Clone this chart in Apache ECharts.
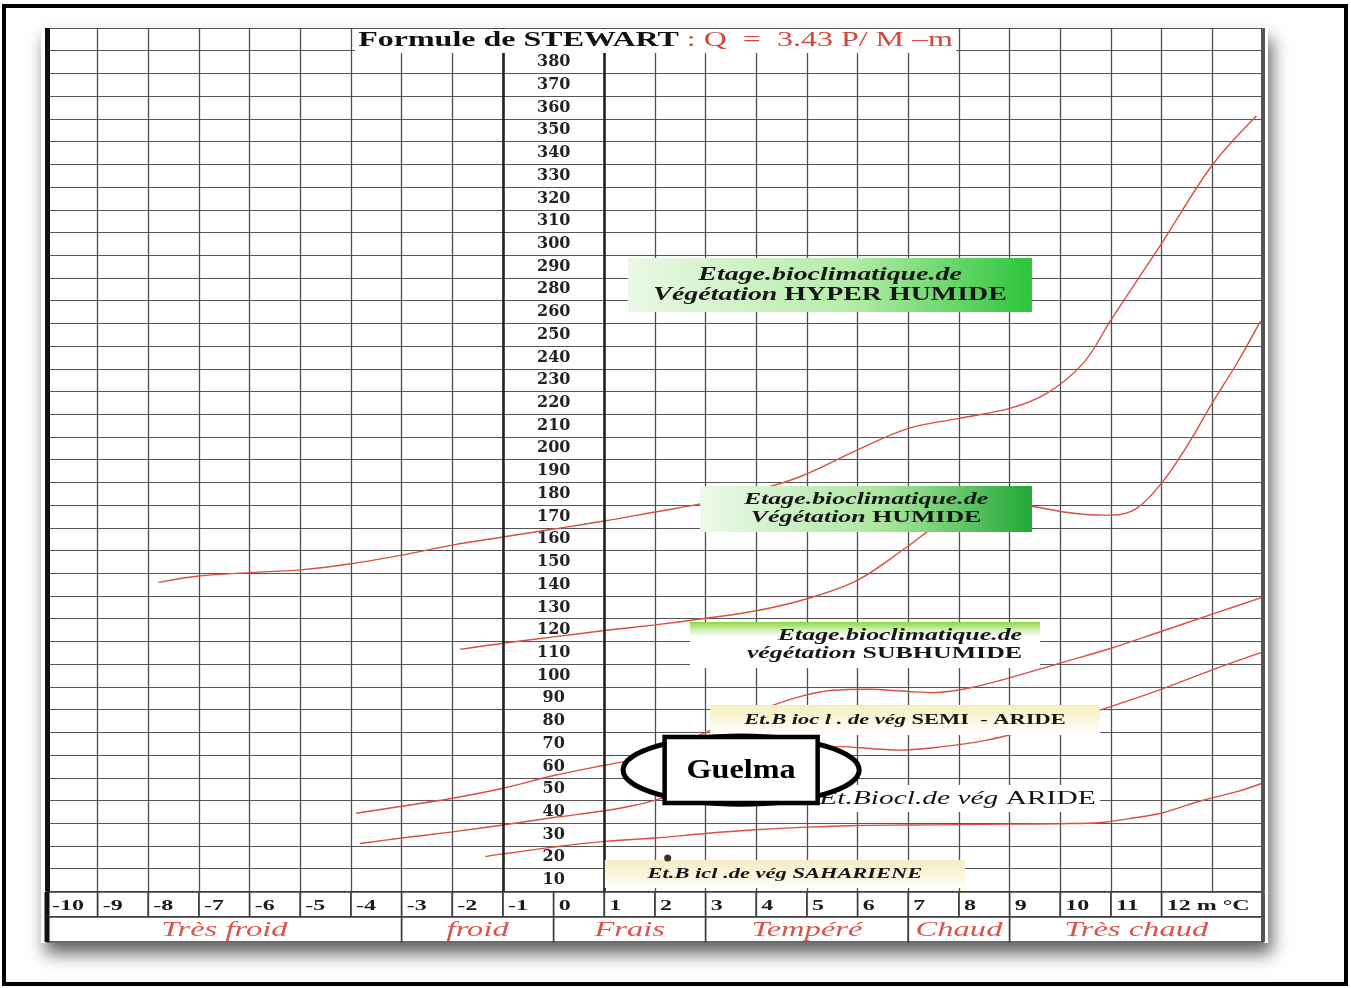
<!DOCTYPE html>
<html>
<head>
<meta charset="utf-8">
<script src="https://cdn.jsdelivr.net/npm/echarts@6/dist/echarts.min.js"></script>
<style>
  html, body { margin: 0; padding: 0; background: #fff; }
  #chart { width: 1351px; height: 988px; }
</style>
</head>
<body>
<div id="chart"></div>
<script>
// Climagramme de Stewart : Q (rows) against m (°C)
const xTicks = [-10, -9, -8, -7, -6, -5, -4, -3, -2, -1, 0, 1, 2, 3, 4, 5, 6, 7, 8, 9, 10, 11, 12];
const xTickLabels = ['-10', '-9', '-8', '-7', '-6', '-5', '-4', '-3', '-2', '-1', '0', '1', '2', '3', '4', '5', '6', '7', '8', '9', '10', '11', '12 m °C'];
// printed as on the original sheet (270 is skipped)
const yTickLabels = ['10', '20', '30', '40', '50', '60', '70', '80', '90', '100', '110', '120', '130', '140', '150', '160',
  '170', '180', '190', '200', '210', '220', '230', '240', '250', '260', '280', '290', '300', '310', '320', '330', '340',
  '350', '360', '370', '380'];
const zoneNames = ['Très froid', 'froid', 'Frais', 'Tempéré', 'Chaud', 'Très chaud'];
const zoneEdges = [-10, -3, 0, 3, 7, 9, 14];

// stage limits [m, Q]
const limitHyperHumide = [[-7.8, 141], [-7, 143.8], [-6, 145.3], [-5, 146.5], [-4, 149.2], [-3, 153], [-2, 157.4], [-1, 161],
  [0, 164.5], [1, 168], [2, 172], [3, 176], [4, 181.5], [4.86, 187.5], [6, 199.3], [7, 208.8], [8, 213.2], [9, 217.6],
  [9.73, 224.2], [10.45, 237.4], [11, 256.5], [12, 290.2], [13, 324.7], [13.87, 346.3]];
const limitHumide = [[-1.85, 111.5], [-1, 114.2], [0, 117], [1, 119.8], [2, 122.3], [3, 125.2], [4, 128.5], [5, 133.8],
  [6, 142], [7, 157], [7.5, 165], [8.3, 172], [9, 175], [9.5, 174.3], [10, 172.2], [10.5, 170.9], [11, 170.6],
  [11.5, 173.5], [12, 184.7], [12.5, 201], [13, 220], [13.5, 238], [13.95, 256]];
const limitSubhumide = [[-3.9, 39.4], [-3, 42.5], [-2, 46], [-1, 50.4], [0, 56], [1, 60.5], [1.5, 62.5], [1.9, 64],
  [3, 75], [4.07, 84.8], [4.86, 90.7], [5.5, 93.5], [6.2, 94], [7, 93], [7.5, 92.5], [8.2, 94.5], [9, 99], [10, 105.5],
  [11, 112], [12, 119.5], [13, 127], [14, 134.5]];
const limitSemiAride = [[-3.82, 26.1], [-3, 28.5], [-2, 31.2], [-1, 34.2], [0, 37.5], [1, 40.5], [1.5, 42.5], [1.9, 44.5],
  [3, 52], [4, 60], [5, 66], [5.65, 68.7], [6.3, 67.8], [6.83, 67.2], [7.6, 68.5], [8.55, 71.6], [9.7, 78], [10.78, 84.8],
  [12, 94], [13, 102.5], [14, 110.4]];
const limitAride = [[-1.35, 20.3], [-1, 21.5], [0, 24.5], [1, 27], [2, 28.5], [3, 30.5], [3.9, 32], [5, 33.3], [6, 34],
  [7, 34.2], [8, 34.4], [9, 34.6], [10, 34.8], [10.8, 35.3], [11.5, 37.5], [12, 39.5], [12.8, 45], [13.5, 49], [14, 52.7]];
const stationDot = [[2.25, 19.7]];

const SERIF = '"Liberation Serif", "Times New Roman", serif';
const RED = '#d8503f';
const STRETCH = 1.55;

const xGridColors = [];
for (let v = -10; v <= 14; v++) xGridColors.push(v === 0 ? 'rgba(0,0,0,0)' : '#505050');

function hGrad(a, b, c) {
  return new echarts.graphic.LinearGradient(0, 0, 1, 0, [
    { offset: 0, color: a }, { offset: 0.55, color: b }, { offset: 1, color: c }]);
}
function vGrad(stops) {
  return new echarts.graphic.LinearGradient(0, 0, 0, 1, stops.map(c => ({ offset: c[0], color: c[1] })));
}
function rich(size, lh) {
  const base = { fontFamily: SERIF, fontSize: size, lineHeight: lh, fill: '#161616' };
  return {
    i: Object.assign({ fontStyle: 'italic', fontWeight: 'bold' }, base),
    b: Object.assign({ fontWeight: 'bold' }, base),
    n: Object.assign({ fontStyle: 'italic' }, base),
    r: Object.assign({}, base)
  };
}

// stage labels, placed in chart units
const boxes = [
  { x1: 1.47, y1: 283.8, x2: 9.44, y2: 260, align: 'center', size: 18, lh: 20,
    fill: hGrad('#eaf8e5', '#b6eca9', '#2cc53b'),
    text: '{i|Etage.bioclimatique.de}\n{i|Végétation}{b| HYPER HUMIDE}' },
  { x1: 2.89, y1: 183.4, x2: 9.44, y2: 163.2, align: 'center', size: 16.7, lh: 18,
    fill: hGrad('#edf9ea', '#abe69e', '#22a837'),
    text: '{i|Etage.bioclimatique.de}\n{i|Végétation}{b| HUMIDE}' },
  { x1: 2.69, y1: 123.6, x2: 9.6, y2: 103.3, align: 'right', size: 16.7, lh: 18,
    fill: vGrad([[0, '#86d63f'], [0.16, '#cfeeb2'], [0.34, '#ffffff'], [1, '#ffffff']]),
    text: '{i|Etage.bioclimatique.de}\n{i|végétation}{b| SUBHUMIDE}' },
  { x1: 3.09, y1: 87, x2: 10.78, y2: 73.8, align: 'center', size: 14.5, lh: 16,
    fill: vGrad([[0, '#f6eebb'], [0.5, '#fbf7df'], [1, '#ffffff']]),
    text: '{i|Et.B ioc l . de vég}{b| SEMI  - ARIDE}' },
  { x1: 5.16, y1: 51.8, x2: 10.78, y2: 39.9, align: 'center', size: 19, lh: 20,
    fill: '#ffffff',
    text: '{n|Et.Biocl.de vég}{r| ARIDE}' },
  { x1: 1.01, y1: 18.8, x2: 8.12, y2: 6.5, align: 'center', size: 14.5, lh: 16,
    fill: vGrad([[0, '#f5edc2'], [1, '#fffdf5']]),
    text: '{i|Et.B icl .de vég SAHARIENE}' }
];

const guelma = { cx: 3.70, cy: 58.4, rx: 2.33, ry: 15, hw: 1.51, hh: 14.5, text: 'Guelma' };

const cells = [];
xTicks.forEach((v, i) => cells.push({ x1: v, x2: i + 1 < xTicks.length ? xTicks[i + 1] : zoneEdges[zoneEdges.length - 1], row: 1, text: xTickLabels[i] }));
zoneNames.forEach((n, i) => cells.push({ x1: zoneEdges[i], x2: zoneEdges[i + 1], row: 0, text: n }));

function renderBox(params, api) {
  const b = boxes[params.dataIndex];
  const p1 = api.coord([api.value(0), api.value(1)]);
  const p2 = api.coord([api.value(2), api.value(3)]);
  const x = Math.min(p1[0], p2[0]), y = Math.min(p1[1], p2[1]);
  const w = Math.abs(p2[0] - p1[0]), h = Math.abs(p2[1] - p1[1]);
  const tx = b.align === 'right' ? x + w - 18 : x + w / 2;
  return {
    type: 'group',
    children: [
      { type: 'rect', shape: { x: x, y: y, width: w, height: h }, style: { fill: b.fill } },
      { type: 'text', x: tx, y: y + h / 2, scaleX: STRETCH,
        style: { text: b.text, rich: rich(b.size, b.lh), align: b.align, verticalAlign: 'middle' } }
    ]
  };
}

function renderGuelma(params, api) {
  const c = api.coord([api.value(0), api.value(1)]);
  const e = api.coord([guelma.cx + guelma.rx, guelma.cy + guelma.ry]);
  const r = api.coord([guelma.cx + guelma.hw, guelma.cy + guelma.hh]);
  const rx = e[0] - c[0], ry = c[1] - e[1];
  const hw = r[0] - c[0], hh = c[1] - r[1];
  return {
    type: 'group',
    children: [
      { type: 'ellipse', shape: { cx: c[0], cy: c[1], rx: rx, ry: ry }, style: { fill: '#fff', stroke: '#000', lineWidth: 5 } },
      { type: 'rect', shape: { x: c[0] - hw, y: c[1] - hh, width: hw * 2, height: hh * 2 }, style: { fill: '#fff', stroke: '#000', lineWidth: 4.5 } },
      { type: 'text', x: c[0], y: c[1] + 1, scaleX: 1.15,
        style: { text: guelma.text, align: 'center', verticalAlign: 'middle', fontFamily: SERIF, fontWeight: 'bold', fontSize: 28, fill: '#000' } }
    ]
  };
}

function renderCell(params, api) {
  const c = cells[params.dataIndex];
  const a = api.coord([api.value(0), api.value(2) + 1]);
  const b = api.coord([api.value(1), api.value(2)]);
  const tick = c.row === 1;
  const children = [
    { type: 'rect', shape: { x: a[0], y: a[1], width: b[0] - a[0], height: b[1] - a[1] }, style: { fill: '#fff', stroke: '#3a3a3a', lineWidth: 1.6 } },
    { type: 'text', x: tick ? a[0] + 5 : (a[0] + b[0]) / 2, y: (a[1] + b[1]) / 2 + 1, scaleX: STRETCH,
      style: tick
        ? { text: c.text, align: 'left', verticalAlign: 'middle', fontFamily: SERIF, fontWeight: 'bold', fontSize: 15.5, fill: '#1a1a1a' }
        : { text: c.text, align: 'center', verticalAlign: 'middle', fontFamily: SERIF, fontStyle: 'italic', fontSize: 21, fill: '#d9544a' } }
  ];
  if (c.x1 === zoneEdges[0]) {
    children.push({ type: 'line', shape: { x1: a[0], y1: a[1], x2: a[0], y2: b[1] }, style: { stroke: '#111', lineWidth: 5 } });
  }
  if (c.x2 === zoneEdges[zoneEdges.length - 1]) {
    children.push({ type: 'line', shape: { x1: b[0], y1: a[1], x2: b[0], y2: b[1] }, style: { stroke: '#555', lineWidth: 4 } });
  }
  return { type: 'group', children: children };
}

function limitSeries(name, data, extra) {
  return Object.assign({
    name: name, type: 'line', xAxisIndex: 0, yAxisIndex: 0, data: data, smooth: 0.35,
    showSymbol: false, silent: true, z: 3,
    lineStyle: { color: RED, width: 1.4 }
  }, extra || {});
}

const chart = echarts.init(document.getElementById('chart'));
chart.setOption({
  animation: false,
  backgroundColor: '#fff',
  grid: [
    { left: 47, right: 88, top: 28, bottom: 96.6, outerBoundsMode: 'none' },
    { left: 47, right: 88, top: 892, height: 50, outerBoundsMode: 'none' }
  ],
  xAxis: [
    { gridIndex: 0, type: 'value', min: -10, max: 14, interval: 1,
      axisLine: { show: false }, axisTick: { show: false }, axisLabel: { show: false },
      splitLine: { show: true, lineStyle: { color: xGridColors, width: 1.3 } } },
    { gridIndex: 1, type: 'value', min: -10, max: 14, show: false }
  ],
  yAxis: [
    { gridIndex: 0, type: 'value', min: 5, max: 385, interval: 10,
      axisLine: { show: false }, axisTick: { show: false }, axisLabel: { show: false },
      splitLine: { show: true, lineStyle: { color: '#555', width: 1.2 } } },
    { gridIndex: 0, type: 'value', min: 5, max: 385, interval: 5, position: 'left', offset: -506.7,
      axisLine: { show: false }, axisTick: { show: false }, splitLine: { show: false },
      axisLabel: {
        align: 'center', margin: 0, fontFamily: 'DejaVu Serif', fontWeight: 'bold', fontSize: 16, color: '#222',
        formatter: function (v) {
          const r = Math.round(v);
          return r % 10 === 0 ? (yTickLabels[r / 10 - 1] || '') : '';
        }
      } },
    { gridIndex: 1, type: 'value', min: 0, max: 2, show: false }
  ],
  graphic: [
    { type: 'rect', z: -20, silent: true, shape: { x: 4, y: 6, width: 1342, height: 978 },
      style: { fill: '#fff', stroke: '#000', lineWidth: 4 } },
    { type: 'rect', z: -10, silent: true, shape: { x: 41, y: 27, width: 1227, height: 916 },
      style: { fill: '#fff', shadowBlur: 16, shadowColor: 'rgba(0,0,0,0.6)', shadowOffsetX: 4, shadowOffsetY: 11 } },
    { type: 'text', z: 50, silent: true, x: 355, y: 41, scaleX: 1.6,
      style: {
        text: '{a|Formule de STEWART}{b| : Q  =  3.43 P/ M –m}',
        verticalAlign: 'middle', backgroundColor: '#fff', padding: [2, 2],
        rich: {
          a: { fontFamily: SERIF, fontWeight: 'bold', fontSize: 20, fill: '#111' },
          b: { fontFamily: SERIF, fontSize: 20, fill: '#d0473b' }
        }
      } }
  ],
  series: [
    limitSeries('HYPER HUMIDE / HUMIDE', limitHyperHumide, {
      markLine: {
        silent: true, symbol: ['none', 'none'], label: { show: false }, animation: false,
        data: [
          { xAxis: -10, lineStyle: { color: '#111', width: 5, type: 'solid' } },
          { xAxis: -1, lineStyle: { color: '#222', width: 2.6, type: 'solid' } },
          { xAxis: 1, lineStyle: { color: '#222', width: 2.6, type: 'solid' } },
          { xAxis: 14, lineStyle: { color: '#555', width: 4, type: 'solid' } }
        ]
      }
    }),
    limitSeries('HUMIDE / SUBHUMIDE', limitHumide),
    limitSeries('SUBHUMIDE / SEMI-ARIDE', limitSubhumide),
    limitSeries('SEMI-ARIDE / ARIDE', limitSemiAride),
    limitSeries('ARIDE / SAHARIEN', limitAride),
    { name: 'étages', type: 'custom', xAxisIndex: 0, yAxisIndex: 0, z: 5, silent: true,
      renderItem: renderBox, data: boxes.map(b => [b.x1, b.y1, b.x2, b.y2]) },
    { name: 'point', type: 'scatter', xAxisIndex: 0, yAxisIndex: 0, z: 6, silent: true,
      symbolSize: 7, itemStyle: { color: '#000' }, data: stationDot },
    { name: 'Guelma', type: 'custom', xAxisIndex: 0, yAxisIndex: 0, z: 7, silent: true,
      renderItem: renderGuelma, data: [[guelma.cx, guelma.cy]] },
    { name: 'axe', type: 'custom', xAxisIndex: 1, yAxisIndex: 2, z: 4, silent: true,
      renderItem: renderCell, data: cells.map(c => [c.x1, c.x2, c.row]) }
  ]
});
</script>
</body>
</html>
